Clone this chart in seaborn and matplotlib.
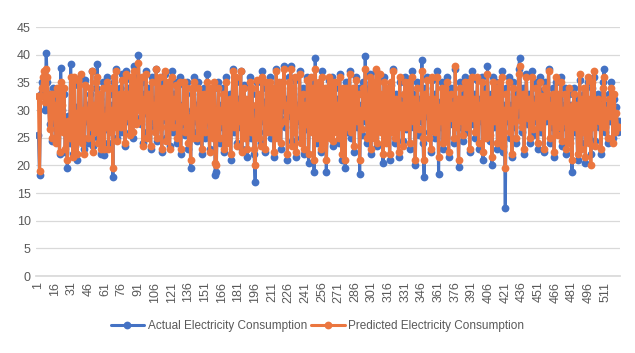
"""Actual vs predicted electricity consumption, Excel-style line chart"""
import numpy as np
import pandas as pd
import seaborn as sns
import matplotlib.pyplot as plt

BLUE = '#4472C4'
ORANGE = '#EB763F'
GREY = '#595959'

ACTUAL_LABEL = 'Actual Electricity Consumption'
PREDICTED_LABEL = 'Predicted Electricity Consumption'

# one row per 15 observations (1-15, 16-30, ...)
ACTUAL = [
    25.5, 18.3, 33, 35, 34.5, 36, 30, 40.4, 35, 33, 27.5, 31, 24.5, 34, 32,
    28, 25, 33, 29.5, 22, 37.6, 30, 27, 33, 22.5, 26, 19.5, 29, 24, 38.3,
    27, 22, 35, 23.5, 30.5, 21, 34.5, 26, 36, 25, 29, 23, 35.5, 28, 31,
    24, 33, 26, 37, 23.5, 30, 27, 34, 38.3, 25, 32, 22, 29, 35, 21.9,
    30, 26.5, 36, 24, 33, 27, 31, 18, 35, 28, 37.5, 25, 30.5, 34, 26,
    36.5, 29, 32, 23.5, 37, 28, 34, 26, 35.5, 30, 25, 38, 33, 28.5, 36,
    40, 31, 27.5, 35, 24, 33, 29.5, 37, 26, 34, 30, 23, 36, 28, 32,
    27, 37.5, 24.5, 31, 35, 28, 22.5, 33.5, 30, 36.5, 25, 29, 34, 23.5, 31.5,
    37, 26, 33, 28, 35, 24, 30, 36, 22, 31, 27.5, 34.5, 25.5, 30, 35,
    23, 29, 19.5, 33, 26, 36, 28, 31, 24.5, 35, 27, 32, 22, 29, 34,
    25, 31.5, 36.5, 28, 23, 33, 30, 26, 34, 18.3, 18.8, 29, 35, 24, 31,
    27, 34, 22.5, 30, 36, 25.5, 28, 33, 21, 31, 37.5, 26, 29.5, 35, 24,
    32, 27, 37, 23, 30, 34.5, 26.5, 31, 21.5, 28, 36, 25, 33, 29, 22,
    17, 30, 35, 26, 32, 24, 37, 28, 31.5, 22.5, 34, 27, 30, 36, 25,
    29, 33, 21.5, 31, 37.5, 26, 34, 28.5, 23, 35, 30, 38, 27, 32, 21,
    36, 29, 38, 24.5, 33, 27, 35.5, 21.5, 31, 28, 37, 25, 30, 34, 22,
    32, 26.5, 36, 20.5, 30, 35, 27, 33, 18.8, 39.5, 29, 24, 34, 31, 22.5,
    37, 28, 25, 33.5, 18.8, 30, 35.5, 26, 31, 36, 23.5, 29, 34, 27, 32,
    24, 36.5, 30, 21, 33, 28, 19.5, 35, 26, 31.5, 37, 25, 29, 33, 22.5,
    30, 36, 27, 34, 18.5, 31, 25.5, 35, 28, 39.7, 30, 24, 33, 36.5, 22,
    29, 34, 26, 31, 37, 23.5, 30, 35.5, 27, 32, 20.5, 36, 28.5, 25, 33,
    30, 21, 34.5, 27, 37.5, 29, 24, 33, 31, 21.5, 35, 28, 30, 24.5, 32,
    36, 26.5, 29, 34, 23, 31, 37, 27, 33, 20, 30, 35, 25.5, 32, 28,
    39, 24, 18, 34, 29, 36, 26, 31, 22.5, 35.5, 28, 33, 25, 30, 37,
    18.5, 31.5, 27, 35, 23, 29, 33.5, 26, 36, 21.5, 30, 34, 27.5, 32, 24,
    37.5, 28, 31, 19.8, 35, 27, 33, 24.5, 30, 36, 26, 29, 34, 22.5, 31,
    37, 27.5, 33, 25, 30, 35.5, 23, 32, 28, 36, 21, 34, 29, 26, 38,
    30, 24.5, 33, 20, 36, 27, 31.5, 35, 23, 29, 34, 26, 37, 22.5, 31,
    12.3, 34, 28, 36, 25, 31, 21.5, 35, 27, 33, 24, 30, 37.5, 39.5, 29,
    26, 34, 22, 31, 36.5, 27.5, 33, 24, 30, 37, 25.5, 32, 28, 35, 23,
    30, 36, 26, 33.5, 29, 22.5, 35, 28, 31, 37.5, 24, 32, 27, 34, 21.5,
    30, 35, 26.5, 32, 28, 36, 23.5, 31, 27, 34, 22, 29.5, 33, 25, 31,
    18.8, 30, 34, 26, 32, 21, 29, 35.5, 24, 31, 27, 33, 20.5, 30, 35,
    25, 31, 22, 34, 28, 36, 24.5, 30, 33, 27, 32, 22, 29, 35, 37.5,
    26, 31, 24, 33, 28, 35, 30, 25, 32, 27, 30.5, 26, 28,
]

PREDICTED = [
    32.5, 19, 32.5, 34, 36, 37, 31.5, 37.5, 36, 32, 26.5, 33, 25, 33, 31,
    29, 24, 34, 30, 22.5, 35, 31, 26, 34, 23, 27, 21, 28, 25, 36,
    28, 21.5, 36, 22.5, 29.5, 22, 35.5, 25, 36.5, 24, 30, 22, 34.5, 29, 30,
    25, 34, 27, 37, 22.5, 31, 26, 35, 36, 24, 33, 23, 28, 34, 23,
    29, 27, 35, 23, 34, 26, 30, 19.5, 36, 27, 37, 24.5, 31, 33, 27,
    35.5, 28, 33, 24, 36.5, 29, 33, 25.5, 36, 29, 26, 37, 34, 27.5, 35,
    38.5, 30, 28, 36, 23.5, 32, 30, 36.5, 25, 33, 31, 23.5, 35, 29, 31,
    26, 37.5, 25, 30, 36, 27, 23, 34, 29, 37, 24.5, 30, 35, 23, 32,
    36, 27, 32, 29, 34.5, 25, 31, 35, 23, 30, 28, 35, 26, 29, 34,
    24, 28, 21, 34, 25, 35, 29, 30, 25, 34, 26, 33, 23, 28, 33,
    26, 30, 35, 29, 22.5, 34, 29, 25, 35, 20.5, 20, 30, 34, 25, 30,
    28, 33, 23, 31, 35, 24, 29, 32, 22, 30, 37, 27, 28.5, 36, 23.5,
    31, 28, 37, 22.5, 31, 34, 25, 32, 23, 27, 35, 26, 34, 28, 23,
    20, 31, 35.5, 25, 33, 23.5, 36, 29, 30, 23, 35, 26, 31, 35, 26,
    28, 34, 22.5, 30, 37, 25, 35, 27.5, 24, 34, 31, 37.5, 28, 31, 22,
    35, 30, 37.5, 23.5, 34, 26, 36, 22.5, 30, 29, 36.5, 24, 31, 33, 23,
    31, 27.5, 35.5, 22, 29, 36, 26, 34, 21, 37.5, 28, 25, 35, 30, 23,
    36, 29, 24, 34, 21, 29, 36, 25, 32, 35, 24.5, 28, 35, 26, 31,
    25, 36, 29, 22, 34, 27, 21, 34, 27, 30.5, 36.5, 26, 28, 34, 23.5,
    29, 35.5, 28, 33, 21, 30, 26.5, 34, 29, 37.5, 29, 25, 32, 36, 23,
    28, 35, 25, 32, 37.5, 24, 29, 36.5, 26, 33, 22, 35, 29, 24, 34,
    29, 22, 35, 26, 37, 28, 25, 32, 30, 22.5, 36, 27, 31, 23.5, 33,
    35, 27, 28, 35, 24, 30, 36, 28, 32, 21, 31, 34, 26.5, 31, 29,
    37, 25, 21, 33, 30, 35.5, 25, 32, 23, 36, 27, 32, 26, 29, 36,
    21.5, 30.5, 28, 34, 24, 28, 34, 25, 35, 22.5, 31, 33, 28.5, 31, 25,
    38, 27, 32, 21, 34, 28, 32, 25.5, 29, 35, 27, 28, 35, 23, 30,
    36, 28.5, 32, 26, 29, 36, 24, 31, 29, 35, 22.5, 33, 30, 25, 36.5,
    29, 25.5, 32, 21.5, 35, 28, 30.5, 34, 24, 28, 35, 25, 36, 23.5, 30,
    19.5, 33, 29, 35, 26, 30, 22, 34, 28, 32, 25, 31, 36.5, 38, 28,
    27, 33, 23, 30, 36, 28.5, 32, 25, 29, 36, 26.5, 31, 29, 34, 24,
    29, 35, 27, 32.5, 30, 23, 34, 29, 30, 37, 25, 31, 28, 33, 22.5,
    29, 36, 25.5, 33, 27, 35, 24.5, 30, 28, 33, 23, 28.5, 34, 24, 30,
    21, 31, 33, 27, 31, 22, 28, 36.5, 23, 32, 26, 34, 21.5, 29, 36,
    24, 32, 20, 35, 27, 37, 23.5, 31, 32, 28, 31, 23, 28, 34, 36,
    27, 30, 25, 32, 29, 34, 31, 24, 33, 26, 29.5, 27, 27,
]

X_TICKS = list(range(1, 512, 15))

sns.set_theme(style="white")
plt.rcParams['font.family'] = ['Liberation Sans', 'DejaVu Sans']

n = len(ACTUAL)
df = pd.DataFrame({
    'obs': np.arange(1, n + 1),
    ACTUAL_LABEL: ACTUAL,
    PREDICTED_LABEL: PREDICTED,
})

fig = plt.figure(figsize=(6.35, 3.53), dpi=100)
ax = fig.add_axes([0.057, 0.218, 0.919, 0.705])

line_kw = dict(marker='o', markersize=5.6, markeredgewidth=0, linewidth=2.2, ax=ax)
sns.lineplot(data=df, x='obs', y=ACTUAL_LABEL, color=BLUE, label=ACTUAL_LABEL, **line_kw)
sns.lineplot(data=df, x='obs', y=PREDICTED_LABEL, color=ORANGE, label=PREDICTED_LABEL, **line_kw)

handles, labels = ax.get_legend_handles_labels()
ax.get_legend().remove()

ax.set_xlim(-1, n + 1)
ax.set_ylim(0, 45)
ax.set_yticks(range(0, 46, 5))
ax.set_xticks(X_TICKS)
ax.set_xticklabels([str(t) for t in X_TICKS], rotation=90)
ax.set_xlabel('')
ax.set_ylabel('')
ax.grid(axis='y', color='#D9D9D9', linewidth=0.9)
ax.set_axisbelow(True)
for side in ['top', 'right', 'left']:
    ax.spines[side].set_visible(False)
ax.spines['bottom'].set_color('#D9D9D9')
ax.tick_params(axis='both', length=0, labelsize=9, colors=GREY, pad=4)

fig.legend(handles, labels, loc='center', bbox_to_anchor=(0.5, 0.076), ncol=2,
           frameon=False, fontsize=8.5, handlelength=2.8, columnspacing=0.4,
           handletextpad=0.3, labelcolor=GREY)

plt.savefig('out.png', dpi=100)
plt.close()
